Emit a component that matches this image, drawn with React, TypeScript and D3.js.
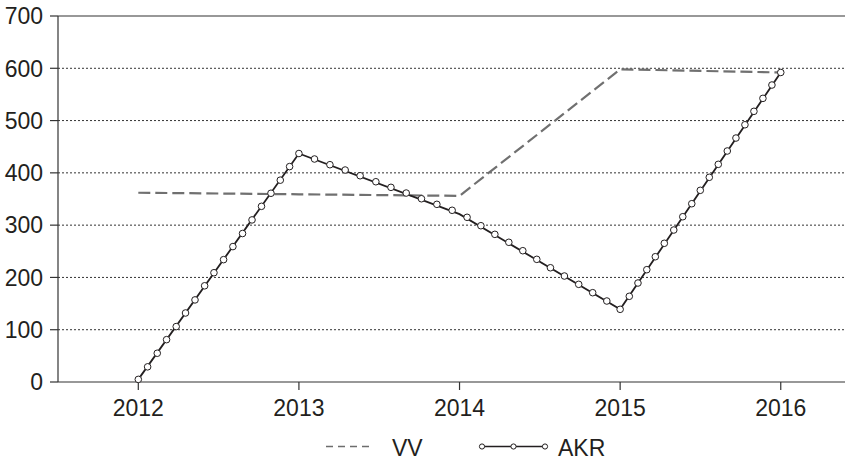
import React from "react";
import * as d3 from "d3";

const years = [2012, 2013, 2014, 2015, 2016];
const yTicks = [0, 100, 200, 300, 400, 500, 600, 700];

// VV series (dashed)
const vvValues = [362, 359, 356, 598, 592];

// AKR series vertices
const akrValues = [5, 437, 321, 139, 592];

// AKR marker positions (fractional year, value)
const akrMarkerYears = [
  2012.0, 2012.058, 2012.118, 2012.176, 2012.236, 2012.294, 2012.353, 2012.413, 2012.471,
  2012.531, 2012.589, 2012.649, 2012.708, 2012.767, 2012.826, 2012.884, 2012.942, 2013.0,
  2013.097, 2013.193, 2013.288, 2013.381, 2013.479, 2013.573, 2013.668, 2013.763, 2013.859,
  2013.954, 2014.047, 2014.133, 2014.22, 2014.307, 2014.394, 2014.481, 2014.566, 2014.653,
  2014.742, 2014.829, 2014.917, 2015.0,
  2015.057, 2015.111, 2015.166, 2015.219, 2015.275, 2015.334, 2015.39, 2015.446, 2015.499,
  2015.555, 2015.611, 2015.667, 2015.721, 2015.777, 2015.833, 2015.889, 2015.945, 2016.0,
];
const akrMarkerValues = [
  5, 29, 55, 81, 106, 132, 157, 184, 209, 234, 259, 284, 310, 336, 361, 386, 412, 437,
  426.5, 415.6, 405.4, 394.5, 383, 372.3, 361.4, 350.5, 339.8, 328.4, 315, 298.9, 282.4,
  267.2, 251.1, 234.6, 218.5, 202.7, 186.8, 170.8, 154.9, 139,
  163.9, 189.3, 214.8, 239.6, 265.3, 290.7, 316.1, 341, 366.6, 391.5, 416.3, 441.8, 466.6,
  492, 517.7, 542.5, 568, 592,
];

const W = 855;
const H = 460;
const left = 58;
const right = 845;
const top = 16;
const bottom = 382;
const font = "'Liberation Sans', Arial, Helvetica, sans-serif";
const textColor = "#231f20";

export default function App() {
  const x = d3.scaleLinear().domain([2011.5, 2016.4]).range([left, right]);
  const y = d3.scaleLinear().domain([0, 700]).range([bottom, top]);

  const line = d3
    .line<[number, number]>()
    .x((d) => x(d[0]))
    .y((d) => y(d[1]));

  const vvPath = line(years.map((yr, i) => [yr, vvValues[i]] as [number, number])) || "";
  const akrPath = line(years.map((yr, i) => [yr, akrValues[i]] as [number, number])) || "";

  const legY = 446.5;

  return (
    <svg
      width={W}
      height={H}
      style={{ position: "absolute", left: 0, top: 0, background: "#fff" }}
      fontFamily={font}
    >
      <rect x={0} y={0} width={W} height={H} fill="#fff" />
      {/* grid lines */}
      {yTicks.map((t) =>
        t === 0 || t === 700 ? null : (
          <line
            key={"g" + t}
            x1={left}
            x2={right}
            y1={y(t)}
            y2={y(t)}
            stroke="#333"
            strokeWidth={1}
            strokeDasharray="2,2"
          />
        )
      )}
      {/* top frame line */}
      <line x1={left} x2={right} y1={y(700)} y2={y(700)} stroke="#333" strokeWidth={1.2} />
      {/* y axis */}
      <line x1={left} x2={left} y1={top} y2={bottom} stroke="#333" strokeWidth={1.2} />
      {yTicks.map((t) => (
        <g key={"yt" + t}>
          <line x1={left - 8} x2={left} y1={y(t)} y2={y(t)} stroke="#333" strokeWidth={1.2} />
          <text
            x={43}
            y={y(t)}
            dy="0.36em"
            textAnchor="end"
            fontSize={23}
            fill={textColor}
          >
            {t}
          </text>
        </g>
      ))}
      {/* x axis */}
      <line x1={left} x2={right} y1={bottom} y2={bottom} stroke="#333" strokeWidth={1.2} />
      {years.map((yr) => (
        <g key={"xt" + yr}>
          <line x1={x(yr)} x2={x(yr)} y1={bottom} y2={bottom + 8} stroke="#333" strokeWidth={1.2} />
          <text x={x(yr)} y={415.5} textAnchor="middle" fontSize={23} fill={textColor}>
            {yr}
          </text>
        </g>
      ))}
      {/* VV dashed */}
      <path d={vvPath} fill="none" stroke="#707070" strokeWidth={2.2} strokeDasharray="12,5" />
      {/* AKR line */}
      <path d={akrPath} fill="none" stroke="#231f20" strokeWidth={1.8} />
      {akrMarkerYears.map((yr, i) => (
        <circle
          key={"m" + i}
          cx={x(yr)}
          cy={y(akrMarkerValues[i])}
          r={3.3}
          fill="#fff"
          stroke="#231f20"
          strokeWidth={1}
        />
      ))}
      {/* legend */}
      <line x1={326} x2={373} y1={legY} y2={legY} stroke="#6d6d6d" strokeWidth={1.3} strokeDasharray="7,5" />
      <text x={392} y={455.5} fontSize={23} fill={textColor}>
        VV
      </text>
      <line x1={482} x2={545} y1={legY} y2={legY} stroke="#231f20" strokeWidth={1.3} />
      {[482, 513.5, 545].map((cx, i) => (
        <circle key={"lm" + i} cx={cx} cy={legY} r={2.6} fill="#fff" stroke="#231f20" strokeWidth={1} />
      ))}
      <text x={558} y={455.5} fontSize={23} fill={textColor}>
        AKR
      </text>
    </svg>
  );
}
